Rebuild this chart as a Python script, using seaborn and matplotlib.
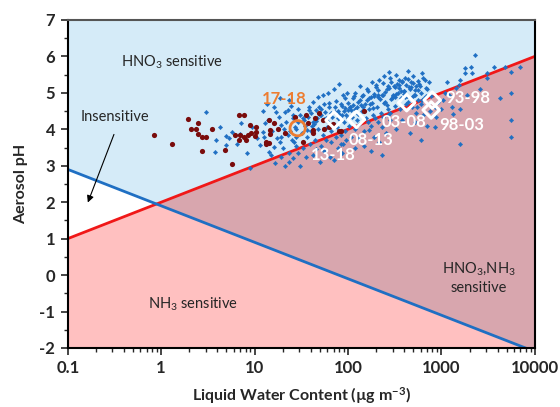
import matplotlib
matplotlib.use("Agg")
import matplotlib.pyplot as plt
import numpy as np
import seaborn as sns
from matplotlib.ticker import FixedLocator, FixedFormatter, MultipleLocator, LogLocator, NullFormatter

# boundary lines (LWC, pH)
red_lwc = [0.1, 10000]
red_ph = [1.0, 6.0]
blue_lwc = [0.1, 10000]
blue_ph = [2.9, -2.1]

# dark red observations
dred_lwc = [0.83, 1.32, 1.94, 2.11, 2.36, 2.50, 2.48, 2.73, 3.04, 2.71, 3.49, 5.71,
            6.78, 7.67, 6.10, 6.9, 7.8, 8.6, 8.0, 6.78, 4.77, 9.0, 10.3, 10.4, 9.2,
            10.0, 13.3, 14.2, 14.2, 16.3, 14.7, 14.7, 17.7, 21.2, 27.1, 35.6, 37,
            41.8, 41.8, 44.7, 48.9, 53.4, 55.7, 63, 80.5, 149, 84, 69.5, 13.3, 33]
dred_ph = [3.83, 3.59, 4.28, 4.01, 4.01, 4.16, 3.86, 3.79, 3.79, 3.41, 4.01, 3.06,
           4.38, 4.38, 3.83, 3.83, 3.79, 3.83, 3.70, 3.70, 3.43, 4.13, 4.07, 3.93, 3.89,
           3.82, 3.66, 3.63, 4.25, 4.16, 3.98, 3.86, 4.00, 3.90, 4.34, 4.39, 4.16,
           3.98, 3.89, 4.30, 4.45, 4.25, 4.02, 4.07, 3.95, 4.49, 3.96, 4.14, 3.61, 3.65]

# blue observations
blue_pt_lwc = [
    3.0, 4.3, 5.8, 4.9, 5.3, 6.9, 3.9, 4.9, 6.5, 3.8, 8.3, 7.2, 9.0, 11.3, 12.2, 13.0,
    12.2, 12.7, 10.5, 9.5,
    14.4, 16.4, 16.3, 17, 18.1, 19.2, 19.2, 18.6, 20, 22.6, 26.7, 28.9, 23.2, 14.0,
    15.5, 21.5, 23.6, 22.6, 21, 25.5, 27, 24, 25, 28, 26, 29, 20.5, 17.5, 16, 23.6,
    19, 27.5, 29.5, 24.5, 18.5, 13.5, 15, 21, 26, 28,
    33.2, 35.6, 41.8, 47.3, 53.5, 61.5, 38.5, 45, 49, 38, 55, 63, 31, 34, 37, 42, 47,
    52, 58, 66, 72, 78, 85, 92, 98, 70, 80, 88, 95, 32, 36, 40, 44, 48, 54, 60, 65,
    71, 76, 82, 90, 99, 39, 46, 52, 58, 66, 74, 84, 93, 42, 56, 64, 78, 88, 96, 31,
    50, 70, 86,
    105, 112, 120, 128, 135, 145, 150, 160, 170, 180, 190, 200, 215, 230, 245, 260,
    275, 290, 110, 125, 140, 155, 168, 185, 205, 225, 250, 270, 295, 102, 118, 132,
    148, 162, 178, 195, 212, 240, 265, 285, 108, 130, 168, 190, 230, 280, 150, 215,
    255, 230, 120, 175, 84,
    310, 330, 350, 380, 410, 440, 470, 500, 540, 574, 620, 660, 700, 300, 340, 370,
    400, 430, 460, 520, 560, 600, 650, 720, 780, 850, 920, 320, 360, 420, 480, 540,
    640, 760, 880, 990, 380, 520, 700, 460, 850, 330, 600,
    2318, 4290, 5610, 5500, 5500, 1600, 3080, 3630, 4840, 5600, 7000, 2050, 1780,
    1800, 2110, 3080, 1600, 1530, 1420, 1300, 1600, 1330, 1100, 1050, 1200, 1150,
    2600, 1900,
    35, 40, 43, 51, 57, 62, 68, 75, 81, 87, 94, 101, 107, 116, 124, 133, 142, 152,
    164, 176, 188, 198, 210, 222, 236, 252, 268, 282, 300, 318, 336, 356, 376, 396,
    418, 444, 468, 494, 522, 556, 590, 630, 680, 740, 36, 45, 55, 67, 79, 91, 104,
    118, 138, 158, 182, 208, 238, 262, 292, 325, 365, 405, 450, 505, 565, 625, 690,
    33, 41, 50, 60, 73, 86, 100, 114, 129, 146, 166, 187, 212, 245, 277, 315, 355,
    395, 440, 490, 545, 610]
blue_pt_ph = [
    4.48, 4.05, 3.93, 3.82, 3.77, 3.87, 3.70, 3.57, 3.59, 3.38, 3.35, 4.18, 2.93, 3.57,
    4.50, 4.16, 3.93, 3.79, 3.75, 4.05,
    3.38, 3.08, 4.62, 4.48, 4.34, 4.12, 3.79, 3.66, 3.49, 3.84, 3.66, 3.34, 3.11, 4.25,
    3.95, 4.20, 4.80, 4.53, 4.47, 4.40, 4.05, 3.95, 3.70, 3.80, 4.30, 4.20, 4.00, 3.75,
    3.52, 3.35, 3.25, 3.55, 4.55, 4.65, 4.85, 4.70, 3.30, 3.00, 3.20, 4.00,
    3.50, 3.24, 4.76, 4.89, 4.94, 4.99, 4.62, 4.52, 4.62, 4.53, 4.70, 4.72, 4.40, 4.25,
    4.35, 4.20, 4.30, 4.40, 4.30, 4.45, 4.60, 4.50, 4.70, 4.85, 5.00, 5.10, 5.25, 4.95,
    4.40, 3.90, 3.80, 3.95, 3.70, 4.00, 3.85, 4.05, 3.95, 4.15, 4.05, 4.25, 4.20, 4.30,
    3.60, 3.45, 3.55, 3.70, 3.65, 3.80, 3.85, 3.95, 3.30, 3.40, 3.25, 3.50, 3.60, 3.70,
    3.00, 3.10, 3.15, 3.35,
    4.60, 4.85, 5.00, 4.75, 5.20, 4.95, 4.49, 5.10, 4.70, 5.30, 4.90, 5.15, 5.35, 4.95,
    5.45, 5.10, 5.56, 5.30, 4.35, 4.25, 4.50, 4.30, 4.55, 4.40, 4.60, 4.45, 4.75, 4.55,
    4.85, 4.10, 4.00, 4.15, 3.95, 4.20, 4.10, 4.30, 4.20, 4.35, 4.40, 4.45, 3.80, 3.75,
    3.98, 3.80, 4.05, 4.25, 3.55, 3.65, 3.90, 3.29, 3.50, 3.40, 3.61,
    5.20, 5.50, 5.36, 5.30, 5.42, 5.60, 5.30, 5.45, 5.20, 5.25, 5.55, 5.35, 5.10, 4.95,
    5.00, 4.85, 5.05, 4.90, 5.10, 4.95, 4.80, 5.00, 4.85, 4.70, 4.90, 4.60, 4.75, 4.65,
    4.55, 4.70, 4.60, 4.45, 4.40, 4.50, 4.35, 4.55, 4.25, 4.20, 4.10, 3.90, 4.05, 4.00,
    3.70,
    6.04, 4.85, 4.99, 4.25, 3.78, 3.59, 5.54, 5.72, 5.72, 5.56, 5.70, 5.72, 5.67, 5.54,
    5.54, 5.40, 5.35, 5.21, 5.12, 4.62, 4.57, 4.42, 5.00, 4.80, 4.95, 5.30, 5.10, 4.95,
    4.10, 4.45, 4.15, 4.55, 4.48, 4.60, 4.35, 4.78, 4.42, 4.65, 4.58, 4.72, 4.52, 4.90,
    4.62, 4.80, 4.92, 4.70, 5.05, 4.88, 4.98, 5.22, 5.08, 4.82, 5.28, 5.02, 5.18, 5.40,
    4.92, 5.15, 5.25, 5.12, 5.32, 5.05, 5.22, 5.38, 5.15, 5.28, 5.08, 5.33, 5.18, 5.40,
    5.12, 5.30, 3.98, 4.22, 4.28, 4.12, 4.30, 4.50, 4.62, 4.55, 4.68, 4.80, 4.72, 4.88,
    4.95, 4.68, 4.82, 4.98, 5.05, 4.88, 5.15, 4.95, 5.08, 4.80, 4.92,
    4.32, 4.08, 4.38, 4.22, 4.48, 4.38, 4.52, 4.66, 4.42, 4.60, 4.85, 4.58, 4.95, 4.72,
    5.12, 4.88, 5.22, 4.98, 4.75, 4.88, 4.62, 4.70]

# period means
period_labels = ["13-18", "08-13", "03-08", "93-98", "98-03"]
period_lwc = [71, 123, 425, 798, 778]
period_ph = [4.25, 4.27, 4.73, 4.80, 4.53]
label_lwc = [70, 175, 400, 1900, 1640]
label_ph = [3.29, 3.70, 4.20, 4.85, 4.12]

recent_lwc = [28.9]
recent_ph = [4.03]

LIGHT_BLUE = "#d5ebf8"
PINK = "#ffc0c0"
MAUVE = "#d8a6ae"
WHITE = "#ffffff"
RED = "#f01818"
BLUE = "#1f6fc3"
DARK_RED = "#7a0c0c"
ORANGE = "#ed7d31"

sns.set_style("ticks")
plt.rcParams["font.family"] = ["Lato", "DejaVu Sans"]
plt.rcParams["mathtext.fontset"] = "custom"
plt.rcParams["mathtext.rm"] = "Lato"
plt.rcParams["mathtext.bf"] = "Lato:bold"
plt.rcParams["mathtext.default"] = "regular"
plt.rcParams["axes.unicode_minus"] = False

fig = plt.figure(figsize=(5.6, 4.07), dpi=100)
ax = fig.add_axes([0.121, 0.145, 0.834, 0.806])
ax.set_xscale("log")
ax.set_facecolor(LIGHT_BLUE)

# region shading, following the two boundary lines in log space
grid = np.logspace(np.log10(red_lwc[0]), np.log10(red_lwc[-1]), 400)
r = np.interp(np.log10(grid), np.log10(red_lwc), red_ph)
b = np.interp(np.log10(grid), np.log10(blue_lwc), blue_ph)
ax.fill_between(grid, -2.5, r, color=PINK, lw=0)
ax.fill_between(grid, b, r, where=r > b, interpolate=True, color=MAUVE, lw=0)
ax.fill_between(grid, r, b, where=b > r, interpolate=True, color=WHITE, lw=0)
ax.fill_between(grid, -2.5, np.minimum(r, b), color=PINK, lw=0)

sns.lineplot(x=red_lwc, y=red_ph, color=RED, lw=2, ax=ax)
sns.lineplot(x=blue_lwc, y=blue_ph, color=BLUE, lw=2, ax=ax)

sns.scatterplot(x=blue_pt_lwc, y=blue_pt_ph, marker="D", s=5, color=BLUE,
                edgecolor=BLUE, linewidth=0.3, ax=ax, zorder=3)
sns.scatterplot(x=dred_lwc, y=dred_ph, marker="o", s=14, color=DARK_RED,
                edgecolor=DARK_RED, linewidth=0, ax=ax, zorder=4)
sns.scatterplot(x=period_lwc, y=period_ph, marker="D", s=70, facecolor="none",
                edgecolor="white", linewidth=2.2, ax=ax, zorder=5)
sns.scatterplot(x=recent_lwc, y=recent_ph, marker="o", s=120, facecolor="none",
                edgecolor=ORANGE, linewidth=2, ax=ax, zorder=5)

for lab, lx, ly in zip(period_labels, label_lwc, label_ph):
    ax.text(lx, ly, lab, color="white", fontsize=12, fontweight="bold",
            ha="center", va="center", zorder=6)
ax.text(21, 4.83, "17-18", color=ORANGE, fontsize=12, fontweight="bold",
        ha="center", va="center", zorder=6)

ax.text(1.29, 5.83, r"HNO$_3$ sensitive", fontsize=10.5, ha="center", va="center")
ax.text(0.32, 4.34, "Insensitive", fontsize=10.5, ha="center", va="center")
ax.text(2.19, -0.80, r"NH$_3$ sensitive", fontsize=10.5, ha="center", va="center")
ax.text(2510, -0.07, "HNO$_3$,NH$_3$\nsensitive", fontsize=10.5, ha="center",
        va="center", linespacing=1.3)
ax.annotate("", xy=(0.16, 1.92), xytext=(0.32, 3.93),
            arrowprops=dict(arrowstyle="-|>", color="black", lw=0.8,
                            mutation_scale=10))

ax.set_xlim(0.1, 10000)
ax.set_ylim(-2, 7)
ax.xaxis.set_major_locator(FixedLocator([0.1, 1, 10, 100, 1000, 10000]))
ax.xaxis.set_major_formatter(FixedFormatter(["0.1", "1", "10", "100", "1000", "10000"]))
ax.xaxis.set_minor_locator(LogLocator(base=10, subs=np.arange(2, 10)))
ax.xaxis.set_minor_formatter(NullFormatter())
ax.yaxis.set_major_locator(MultipleLocator(1))
ax.yaxis.set_minor_locator(MultipleLocator(0.5))
ax.tick_params(which="major", direction="out", length=5, width=1.2,
               labelsize=12, pad=4)
ax.tick_params(which="minor", direction="out", length=3, width=1)
for t in ax.get_xticklabels() + ax.get_yticklabels():
    t.set_fontweight("bold")

for side in ["left", "bottom", "right", "top"]:
    ax.spines[side].set_visible(True)
    ax.spines[side].set_linewidth(1.5)
    ax.spines[side].set_color("black")
ax.spines["top"].set_color("#555555")

ax.set_xlabel(r"Liquid Water Content (µg m$^{\mathbf{-3}}$)", fontsize=11.5,
              fontweight="bold", labelpad=6)
ax.set_ylabel("Aerosol pH", fontsize=11.5, fontweight="bold", labelpad=8)

fig.savefig("out.png", dpi=100)
